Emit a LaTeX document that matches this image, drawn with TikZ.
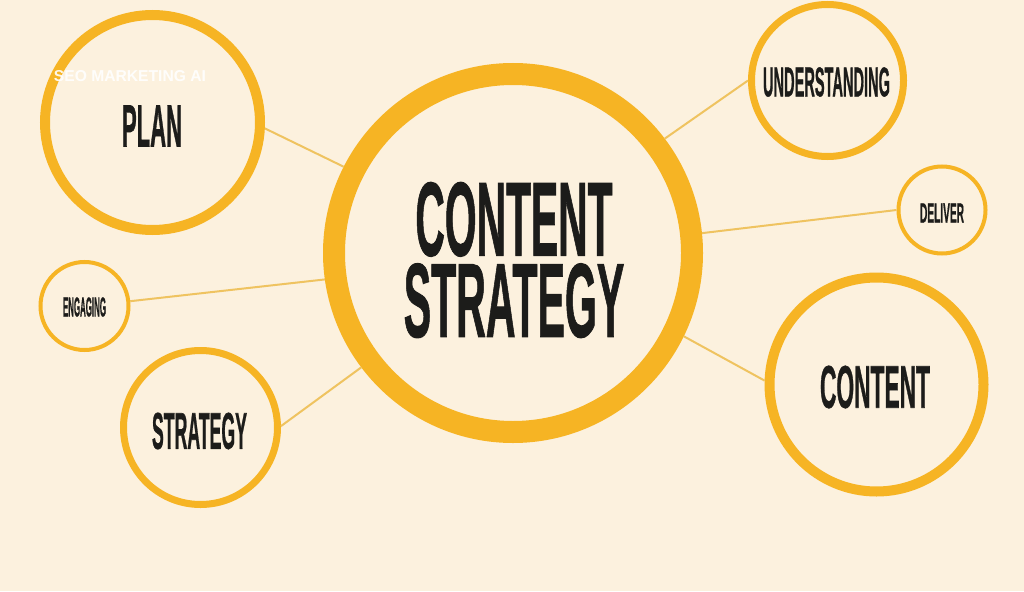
\documentclass[tikz,border=0pt]{standalone}
\usepackage{fontspec}
\usepackage{graphicx}
\newfontfamily\cf[FakeBold=1.2]{Liberation Sans Bold}
\newfontfamily\wf{Liberation Sans Bold}
\definecolor{bg}{HTML}{FCF1DE}
\definecolor{ringc}{HTML}{F6B424}
\definecolor{linkc}{HTML}{EFC360}
\definecolor{ink}{HTML}{1C1C1A}
\newcommand{\fitlab}[3]{\resizebox{#1pt}{#2pt}{\cf #3}}
\begin{document}
\begin{tikzpicture}[x=1pt,y=-1pt,
  ringnode/.style={circle, draw=ringc, inner sep=0pt},
  labnode/.style={inner sep=0pt, text=ink, anchor=center},
  linkline/.style={draw=linkc, line width=2pt}]
\fill[bg] (0,0) rectangle (1024,591);
\useasboundingbox (0,0) rectangle (1024,591);
% circles
\node[ringnode, line width=22pt, minimum size=358pt] (main) at (513,253) {};
\node[ringnode, line width=10pt, minimum size=215pt] (plan) at (152.5,122.5) {};
\node[ringnode, line width=7pt, minimum size=152pt] (und) at (827.5,80.5) {};
\node[ringnode, line width=4pt, minimum size=87pt] (del) at (942,210) {};
\node[ringnode, line width=4pt, minimum size=88pt] (eng) at (84.5,306) {};
\node[ringnode, line width=7pt, minimum size=154pt] (strat) at (200.5,427.5) {};
\node[ringnode, line width=10pt, minimum size=214pt] (cont) at (876.5,384.5) {};
% connectors
\draw[linkline] (plan.-3) -- (main.153.4);
\draw[linkline] (und.180) -- (main.37.8);
\draw[linkline] (del.180) -- (main.6);
\draw[linkline] (eng.6) -- (main.188.2);
\draw[linkline] (strat.1.8) -- (main.217.8);
\draw[linkline] (cont.178.7) -- (main.-26.6);
% labels
\node[labnode, align=center, font=\fontsize{1pt}{1pt}\selectfont] (mainT) at (514,260)
  {\fitlab{197}{73}{CONTENT}\\[6pt]\fitlab{220}{73}{STRATEGY}};
\node[labnode] (planT) at (152,126) {\fitlab{60}{41}{PLAN}};
\node[labnode] (undT) at (826.5,82) {\fitlab{127}{29}{UNDERSTANDING}};
\node[labnode] (delT) at (942,213) {\fitlab{44}{19}{DELIVER}};
\node[labnode] (engT) at (84.5,307) {\fitlab{43}{19}{ENGAGING}};
\node[labnode] (stratT) at (199.5,431) {\fitlab{95}{36}{STRATEGY}};
\node[labnode] (contT) at (875,387) {\fitlab{110}{42}{CONTENT}};
\node[inner sep=0pt, text=white, text opacity=0.9] (seo) at (130,76) {\resizebox{152pt}{11pt}{\wf SEO MARKETING AI}};
\end{tikzpicture}
\end{document}
